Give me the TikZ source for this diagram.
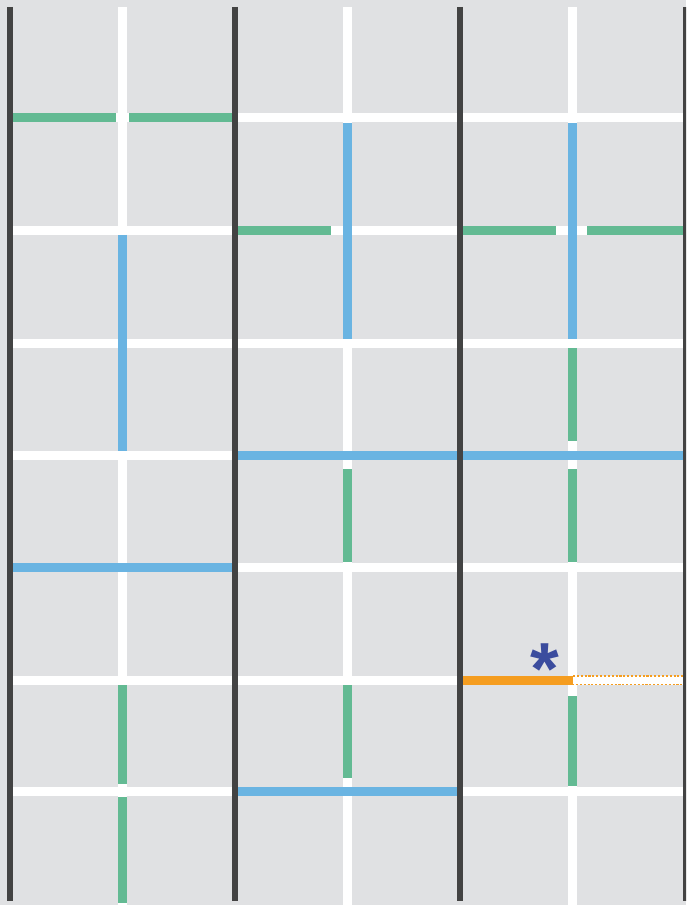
\documentclass[tikz,border=0pt]{standalone}
\usepackage{fontspec}
\newfontfamily\starfont{Liberation Sans}
\usepackage{tikz}
\usetikzlibrary{positioning}
\usepackage{xcolor}
\definecolor{bgGrey}{HTML}{E0E1E3}
\definecolor{railGrey}{HTML}{434343}
\definecolor{segGreen}{HTML}{63BA93}
\definecolor{segBlue}{HTML}{6AB4E2}
\definecolor{segOrange}{HTML}{F59D20}
\definecolor{starBlue}{HTML}{3B4C9E}

\begin{document}
\begin{tikzpicture}[
    x=0.02cm, y=-0.02cm,
    rail/.style={line width=0.12cm, draw=railGrey},
    lane/.style={line width=0.18cm, draw=white},
    gseg/.style={line width=0.18cm, draw=segGreen},
    bseg/.style={line width=0.18cm, draw=segBlue},
    oseg/.style={line width=0.18cm, draw=segOrange},
    ghost/.style={draw=segOrange, line width=0.7pt,
                  dash pattern=on 1.2pt off 1pt, fill=white}
]
\useasboundingbox (0,0) rectangle (686,905);
\clip (0,0) rectangle (686,905);
\fill[bgGrey] (0,0) rectangle (686,905);

% white grid
\foreach \y in {118,230.5,343.5,455.5,567,680,791.5}
    \draw[lane] (10,\y) -- (686,\y);
\foreach \x in {122.8,347,572}
    \draw[lane] (\x,7) -- (\x,905);

% horizontal pieces
\draw[gseg] (13,118) -- (116.3,118);
\draw[gseg] (129,118) -- (232,118);
\draw[gseg] (238,230.5) -- (331,230.5);
\draw[gseg] (463,230.5) -- (556,230.5);
\draw[gseg] (587,230.5) -- (686,230.5);
\draw[bseg] (238,455.5) -- (457,455.5);
\draw[bseg] (463,455.5) -- (686,455.5);
\draw[bseg] (13,567) -- (232,567);
\draw[bseg] (238,791.5) -- (457,791.5);
\draw[oseg] (463,680) -- (572.5,680);
\draw[ghost] (572.5,676) rectangle (683.5,684.2);

% vertical pieces
\draw[bseg] (122.8,235) -- (122.8,451);
\draw[gseg] (122.8,685) -- (122.8,784);
\draw[gseg] (122.8,796.5) -- (122.8,903);
\draw[bseg] (347,123) -- (347,339);
\draw[gseg] (347,469) -- (347,561.5);
\draw[gseg] (347,685) -- (347,778);
\draw[bseg] (572,123) -- (572,339);
\draw[gseg] (572,348) -- (572,441);
\draw[gseg] (572,469) -- (572,561.5);
\draw[gseg] (572,696) -- (572,786);

% rails
\foreach \x in {10,235,460,685.8}
    \draw[rail] (\x,7) -- (\x,901);

\node[starBlue, font=\starfont\bfseries\fontsize{42}{42}\selectfont,
      inner sep=0pt, anchor=base] (mark) at (545,694) {*};
\end{tikzpicture}
\end{document}
